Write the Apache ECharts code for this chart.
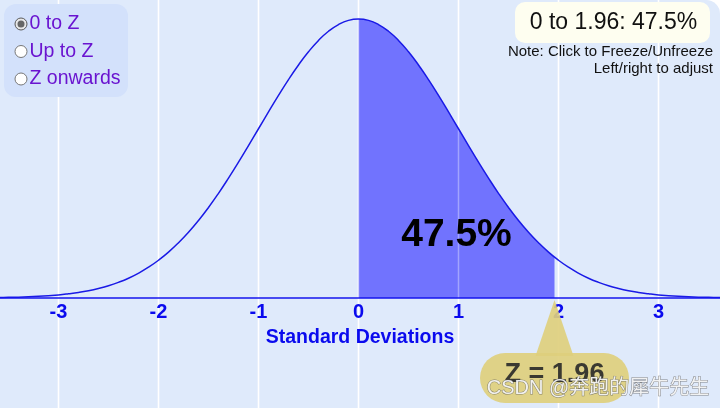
<!DOCTYPE html>
<html><head><meta charset="utf-8">
<script src="https://cdn.jsdelivr.net/npm/echarts@6/dist/echarts.min.js"></script>
<style>html,body{margin:0;padding:0;background:#fff;}#c{width:720px;height:408px;background:#dfeafb;border-top-right-radius:14px;overflow:hidden;}</style>
</head><body><div id="c"></div><script>
// Curve samples (standard deviations) and their heights
const xs = [-3.7,-3.6,-3.5,-3.4,-3.3,-3.2,-3.1,-3.0,-2.9,-2.8,-2.7,-2.6,-2.5,-2.4,-2.3,-2.2,-2.1,-2.0,-1.9,-1.8,-1.7,-1.6,-1.5,-1.4,-1.3,-1.2,-1.1,-1.0,-0.9,-0.8,-0.7,-0.6,-0.5,-0.4,-0.3,-0.2,-0.1,0,0.1,0.2,0.3,0.4,0.5,0.6,0.7,0.8,0.9,1.0,1.1,1.2,1.3,1.4,1.5,1.6,1.7,1.8,1.9,2.0,2.1,2.2,2.3,2.4,2.5,2.6,2.7,2.8,2.9,3.0,3.1,3.2,3.3,3.4,3.5,3.6,3.7];
const density = [0.0004,0.0006,0.0009,0.0012,0.0017,0.0024,0.0033,0.0044,0.0060,0.0079,0.0104,0.0136,0.0175,0.0224,0.0283,0.0355,0.0440,0.0540,0.0656,0.0790,0.0940,0.1109,0.1295,0.1497,0.1714,0.1942,0.2179,0.2420,0.2661,0.2897,0.3123,0.3332,0.3521,0.3683,0.3814,0.3910,0.3970,0.3989,0.3970,0.3910,0.3814,0.3683,0.3521,0.3332,0.3123,0.2897,0.2661,0.2420,0.2179,0.1942,0.1714,0.1497,0.1295,0.1109,0.0940,0.0790,0.0656,0.0540,0.0440,0.0355,0.0283,0.0224,0.0175,0.0136,0.0104,0.0079,0.0060,0.0044,0.0033,0.0024,0.0017,0.0012,0.0009,0.0006,0.0004];
const tickValues = [-3,-2,-1,0,1,2,3];
const zStart = 0;
const zValue = 1.96;
const zDensity = 0.0584;
const areaPercent = '47.5%';
const radioLabels = ['0 to Z','Up to Z','Z onwards'];
const titleText = '0 to 1.96: 47.5%';
const noteLines = ['Note: Click to Freeze/Unfreeze','Left/right to adjust'];
const axisName = 'Standard Deviations';
const calloutText = 'Z = 1.96';
const watermark = 'CSDN @奔跑的犀牛先生';

const curveData = xs.map((x,i)=>[x,density[i]]);
const shadedData = curveData.filter(p=>p[0]>=zStart && p[0]<zValue).concat([[zValue,zDensity]]);

const chart = echarts.init(document.getElementById('c'), null, {renderer:'canvas'});
const XMIN = -3.585, XMAX = 3.615;
function vline(color, opacity, width){
  return function(params, api){
    const a = api.coord([api.value(0), 0]);
    const b = api.coord([api.value(0), 1]);
    return {type:'line', shape:{x1:a[0],y1:a[1],x2:b[0],y2:b[1]}, style:{stroke:color, lineWidth:width, opacity:opacity}};
  };
}
chart.setOption({
  backgroundColor:'transparent',
  animation:false,
  grid:[{left:0,right:0,top:0,bottom:110},{left:0,right:0,top:0,bottom:0}],
  xAxis:[{
    type:'value', gridIndex:0, min:XMIN, max:XMAX, z:5,
    axisLine:{show:true,onZero:false,lineStyle:{color:'#1414ee',width:1.5}},
    axisTick:{show:false,customValues:tickValues},
    splitLine:{show:false},
    axisLabel:{customValues:tickValues,color:'#0a0aee',fontWeight:'bold',fontSize:20,fontFamily:'Liberation Sans, Arial',margin:4},
    name:axisName, nameLocation:'middle', nameGap:30,
    nameTextStyle:{color:'#0a0aee',fontWeight:'bold',fontSize:19.5,fontFamily:'Liberation Sans, Arial'}
  },{
    type:'value', gridIndex:1, min:XMIN, max:XMAX, show:false
  }],
  yAxis:[{type:'value',gridIndex:0,min:0,max:0.4261,show:false},{type:'value',gridIndex:1,min:0,max:1,show:false}],
  series:[
    {type:'custom',xAxisIndex:1,yAxisIndex:1,z:1,data:tickValues.map(v=>[v]),renderItem:vline('#ffffff',1,1.5),silent:true},
    {type:'line',xAxisIndex:0,yAxisIndex:0,z:2,data:shadedData,smooth:true,symbol:'none',lineStyle:{width:0},areaStyle:{color:'#7173fe',opacity:1}},
    {type:'custom',xAxisIndex:1,yAxisIndex:1,z:3,data:tickValues.map(v=>[v]),renderItem:vline('#ffffff',0.35,1.5),silent:true},
    {type:'line',xAxisIndex:0,yAxisIndex:0,z:4,data:curveData,smooth:true,symbol:'none',lineStyle:{color:'#1a1ae6',width:1.5}}
  ]
});

const px = chart.convertToPixel({xAxisIndex:0}, zValue);
const py = chart.convertToPixel({yAxisIndex:0}, 0);
const midX = chart.convertToPixel({xAxisIndex:0}, (zStart+zValue)/2);
const g = [];
g.push({type:'rect',shape:{x:4,y:4,width:124,height:93,r:12},style:{fill:'#d3e1fb'},z:10});
radioLabels.forEach((t,i)=>{
  const cy = 24 + 27.5*i;
  g.push({type:'circle',shape:{cx:21,cy:cy,r:6},style:{fill:i===0?'#e8e8e8':'#ffffff',stroke:i===0?'#5a5a5a':'#777777',lineWidth:1},z:11});
  if(i===0) g.push({type:'circle',shape:{cx:21,cy:cy,r:3.5},style:{fill:'#666666'},z:12});
  g.push({type:'text',x:29.5,y:cy,style:{text:t,font:'19.5px "Liberation Sans", Arial',fill:'#6a14d0',verticalAlign:'middle'},z:11});
});
g.push({type:'rect',shape:{x:515,y:2,width:195,height:41,r:10},style:{fill:'#fefef0'},z:10});
g.push({type:'text',x:613.5,y:22.5,style:{text:titleText,font:'23px "Liberation Sans", Arial',fill:'#111',align:'center',verticalAlign:'middle'},z:11});
noteLines.forEach((t,i)=>{
  g.push({type:'text',x:713,y:52+17*i,style:{text:t,font:'15px "Liberation Sans", Arial',fill:'#111',align:'right',verticalAlign:'middle'},z:11});
});
g.push({type:'text',x:midX,y:235,style:{text:areaPercent,font:'bold 39px "Liberation Sans", Arial',fill:'#000',align:'center',verticalAlign:'middle'},z:11});
// callout
g.push({type:'polygon',shape:{points:[[px-19,356],[px+19,356],[px,py+2]]},style:{fill:'rgba(222,207,125,0.92)'},z:12});
g.push({type:'rect',shape:{x:px-74.5,y:353,width:149,height:50,r:25},style:{fill:'rgba(222,207,125,0.92)'},z:12});
g.push({type:'text',x:px,y:375,style:{text:calloutText,font:'bold 27px "Liberation Sans", Arial',fill:'rgba(40,40,40,0.9)',align:'center',verticalAlign:'middle'},z:13});
g.push({type:'text',x:598,y:388,style:{text:watermark,font:'20px "Liberation Sans", "Noto Sans CJK SC"',fill:'rgba(245,245,245,0.95)',stroke:'rgba(90,90,90,0.7)',lineWidth:1,align:'center',verticalAlign:'middle'},z:14});
chart.setOption({graphic:g});
</script></body></html>
